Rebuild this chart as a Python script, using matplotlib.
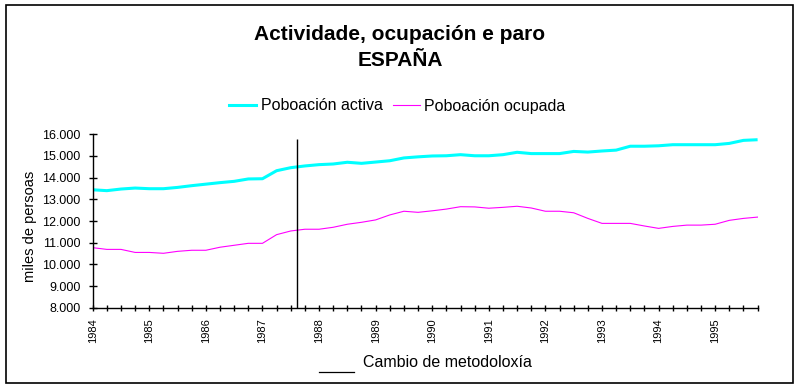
import matplotlib
matplotlib.use("Agg")
import matplotlib.pyplot as plt
from matplotlib.lines import Line2D
from matplotlib.patches import Rectangle

plt.rcParams['font.family'] = ['Liberation Sans', 'DejaVu Sans']

# Quarterly data 1984Q1 - 1995Q4 (thousands of persons)
years = list(range(1984, 1996))
activa = [13440, 13400, 13475, 13520, 13490, 13490, 13550, 13630,
          13700, 13770, 13830, 13940, 13950, 14320, 14460, 14540,
          14600, 14630, 14710, 14660, 14720, 14780, 14910, 14960,
          15000, 15010, 15060, 15010, 15010, 15060, 15170, 15110,
          15110, 15110, 15210, 15180, 15230, 15270, 15450, 15450,
          15470, 15520, 15520, 15520, 15520, 15580, 15720, 15750]
ocupada = [10770, 10690, 10690, 10550, 10550, 10510, 10600, 10650,
           10650, 10790, 10880, 10970, 10970, 11370, 11540, 11620,
           11620, 11710, 11850, 11940, 12050, 12280, 12450, 12400,
           12470, 12550, 12660, 12650, 12590, 12630, 12680, 12600,
           12450, 12450, 12380, 12120, 11890, 11890, 11890, 11770,
           11660, 11750, 11810, 11810, 11850, 12030, 12120, 12180]
series_names = ["Poboación activa", "Poboación ocupada"]
y_ticks = [8000, 9000, 10000, 11000, 12000, 13000, 14000, 15000, 16000]
y_tick_labels = ["8.000", "9.000", "10.000", "11.000", "12.000",
                 "13.000", "14.000", "15.000", "16.000"]
cambio_x = 14.46          # position of methodology change (quarter index)
cambio_top = 15770

W, H = 800, 389
fig = plt.figure(figsize=(W / 100, H / 100), dpi=100)
ax = fig.add_axes([92.7 / W, 1 - 307.7 / H, (757.6 - 92.7) / W, (307.7 - 134.3) / H])

x = list(range(len(activa)))
ax.plot(x, activa, color='#00FFFF', lw=2.2, solid_capstyle='butt')
ax.plot(x, ocupada, color='#FF00FF', lw=0.8)
ax.vlines(cambio_x, y_ticks[0], cambio_top, color='black', lw=1)

ax.set_xlim(0, len(activa) - 1)
ax.set_ylim(y_ticks[0], y_ticks[-1])
ax.set_yticks(y_ticks)
ax.set_yticklabels(y_tick_labels, fontsize=9)
ax.set_xticks(x)
ax.set_xticklabels([str(years[i // 4]) if i % 4 == 0 else "" for i in x],
                   rotation=90, fontsize=8)
ax.tick_params(axis='y', direction='inout', length=6, width=1, pad=5.6)
ax.tick_params(axis='x', direction='inout', length=4.5, width=1, pad=5.2)
for s in ['top', 'right']:
    ax.spines[s].set_visible(False)
for s in ['left', 'bottom']:
    ax.spines[s].set_linewidth(1)

# Titles
fig.text(400 / W, 1 - 35 / H, "Actividade, ocupación e paro", ha='center', va='center',
         fontsize=15, fontweight='bold')
fig.text(400 / W, 1 - 61 / H, "ESPAÑA", ha='center', va='center',
         fontsize=15, fontweight='bold')

# y label
fig.text(30 / W, 1 - 226 / H, "miles de persoas", rotation=90, ha='center', va='center',
         fontsize=10.5)

# Legend
handles = [Line2D([], [], color='#00FFFF', lw=2.2), Line2D([], [], color='#FF00FF', lw=0.8)]
fig.legend(handles, series_names, loc='center', bbox_to_anchor=(397.5 / W, 1 - 106 / H),
           ncol=2, frameon=False, fontsize=11.5, handlelength=1.69, handletextpad=0.3,
           columnspacing=0.6, borderpad=0, borderaxespad=0)

# Methodology note
fig.add_artist(Line2D([319 / W, 354 / W], [1 - 371.7 / H, 1 - 371.7 / H], color='black', lw=0.9))
fig.text(363 / W, 1 - 367.3 / H, "Cambio de metodoloxía", ha='left', va='baseline', fontsize=11.5)

# Outer border
fig.add_artist(Rectangle((6 / W, 1 - 383 / H), (793 - 6) / W, (383 - 5) / H,
                         transform=fig.transFigure, fill=False, edgecolor='black', lw=1.2))

fig.savefig("out.png", dpi=100)
